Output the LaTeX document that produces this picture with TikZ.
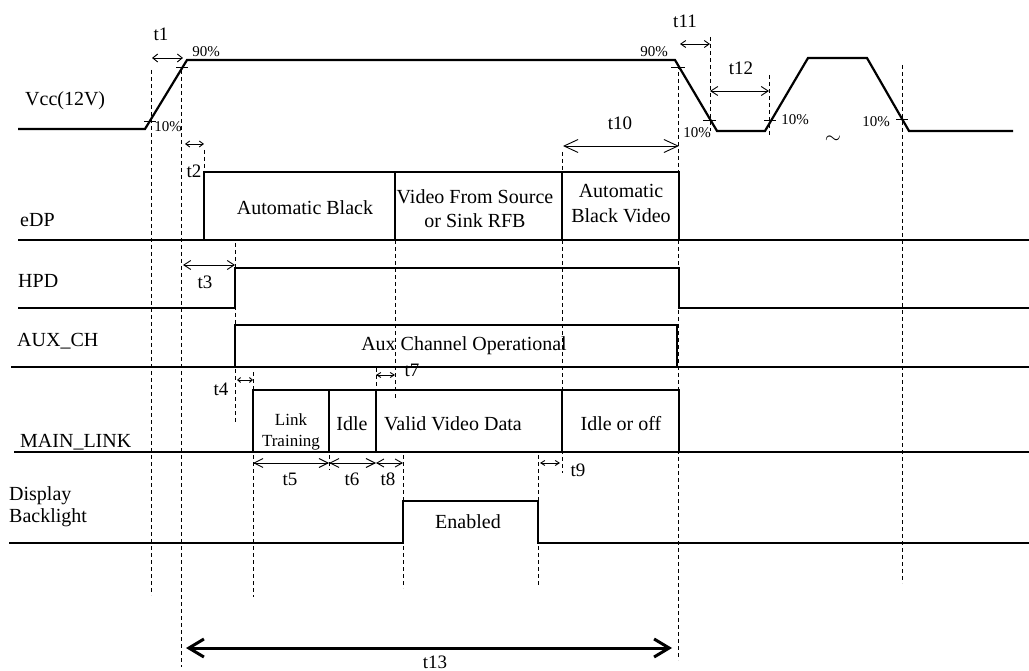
\documentclass[tikz,border=0pt]{standalone}
\usepackage{fontspec}
\setmainfont{Liberation Serif}
\usetikzlibrary{arrows.meta}
\begin{document}
\begin{tikzpicture}[x=1pt,y=-1pt,
  sig/.style={line width=2.2pt, line join=miter},
  guide/.style={line width=0.8pt, dash pattern=on 4pt off 3pt},
  tick/.style={line width=1pt},
  dim/.style n args={2}{{Straight Barb[length=#1,width=#2]}-{Straight Barb[length=#1,width=#2]}, line width=0.9pt},
  bigdim/.style={{Straight Barb[length=15pt,width=18pt]}-{Straight Barb[length=15pt,width=18pt]}, line width=3pt},
  lbl/.style={font=\fontsize{20}{23}\selectfont, inner sep=0pt},
  tl/.style={font=\fontsize{19}{22}\selectfont, inner sep=0pt},
  sm/.style={font=\fontsize{17}{20}\selectfont, inner sep=0pt},
  pct/.style={font=\fontsize{15}{17}\selectfont, inner sep=0pt}]
\useasboundingbox (0,0) rectangle (1029,671);

% ---------- signal names ----------
\node[lbl, anchor=base west] (nVcc) at (25,106) {Vcc(12V)};
\node[lbl, anchor=base west] (nEDP) at (20,227) {eDP};
\node[lbl, anchor=base west] (nHPD) at (18,288) {HPD};
\node[lbl, anchor=base west] (nAUX) at (17,347) {AUX\_CH};
\node[lbl, anchor=base west] (nML) at (20,447) {MAIN\_LINK};
\node[lbl, anchor=base west] (nDisp) at (9,500) {Display};
\node[lbl, anchor=base west] (nBL) at (9,522) {Backlight};

% ---------- guide lines ----------
\draw[guide] (151,70) -- (151,595);
\draw[guide] (181,70) -- (181,667);
\draw[guide] (204,150) -- (204,172);
\draw[guide] (235,243) -- (235,423);
\draw[guide] (253,372) -- (253,390);
\draw[guide] (253,455) -- (253,597);
\draw[guide] (329,455) -- (329,470);
\draw[guide] (376,368) -- (376,390);
\draw[guide] (395,240) -- (395,400);
\draw[guide] (403,455) -- (403,588);
\draw[guide] (538,455) -- (538,585);
\draw[guide] (562,152) -- (562,172);
\draw[guide] (562,240) -- (562,473);
\draw[guide] (678,65) -- (678,660);
\draw[guide] (710,37) -- (710,131);
\draw[guide] (769,75) -- (769,135);
\draw[guide] (902,65) -- (902,583);

% ---------- Vcc ----------
\draw[sig] (18,129) -- (145,129) -- (187,60) -- (675,60) -- (717,131) -- (765,131)
  -- (808,58) -- (867,58) -- (909,131) -- (1013,131);
\draw[tick] (144,122) -- (156,122);
\draw[tick] (176,68) -- (188,68);
\draw[tick] (671,68) -- (685,68);
\draw[tick] (703,121) -- (716,121);
\draw[tick] (764,121) -- (776,121);
\draw[tick] (896,120) -- (908,120);
\node[pct, anchor=base] (p90a) at (206,57) {90\%};
\node[pct, anchor=base] (p10a) at (168,132) {10\%};
\node[pct, anchor=base] (p90b) at (654,57) {90\%};
\node[pct, anchor=base] (p10b) at (697,138) {10\%};
\node[pct, anchor=base] (p10c) at (795,125) {10\%};
\node[pct, anchor=base] (p10d) at (876,127) {10\%};
\node[lbl] (tilde) at (833,140) {$\sim$};

% ---------- eDP ----------
\draw[sig] (18,240) -- (1029,240);
\draw[sig] (204,240) |- (679,172) -- (679,240);
\draw[sig] (395,172) -- (395,240);
\draw[sig] (562,172) -- (562,240);
\node[lbl, anchor=base] (eA) at (305,215) {Automatic Black};
\node[lbl, anchor=base] (eV1) at (475,204) {Video From Source};
\node[lbl, anchor=base] (eV2) at (475,228) {or Sink RFB};
\node[lbl, anchor=base] (eB1) at (621,198) {Automatic};
\node[lbl, anchor=base] (eB2) at (621,223) {Black Video};

% ---------- HPD ----------
\draw[sig] (18,308) -- (235,308) -- (235,268) -- (679,268) -- (679,308) -- (1029,308);

% ---------- AUX ----------
\draw[sig] (235,367) -- (235,325) -- (677,325) -- (677,367);
\draw[sig] (11,367) -- (1029,367);
\node[lbl, anchor=base] (aux) at (464,350) {Aux Channel Operational};

% ---------- MAIN_LINK ----------
\draw[sig] (14,452) -- (1029,452);
\draw[sig] (253,452) |- (679,390) -- (679,452);
\draw[sig] (329,390) -- (329,452);
\draw[sig] (376,390) -- (376,452);
\draw[sig] (562,390) -- (562,452);
\node[sm, anchor=base] (lt1) at (291,425) {Link};
\node[sm, anchor=base] (lt2) at (291,446) {Training};
\node[lbl, anchor=base] (idle) at (352,430) {Idle};
\node[lbl, anchor=base] (vvd) at (453,430) {Valid Video Data};
\node[lbl, anchor=base] (ioo) at (621,430) {Idle or off};

% ---------- Backlight ----------
\draw[sig] (9,543) -- (403,543) -- (403,501) -- (538,501) -- (538,543) -- (1029,543);
\node[lbl, anchor=base] (en) at (468,528) {Enabled};

% ---------- timing arrows ----------
\coordinate (a1) at (152,58);  \coordinate (b1) at (183,58);
\coordinate (a2) at (185,144); \coordinate (b2) at (204,144);
\coordinate (a3) at (183,265); \coordinate (b3) at (235,265);
\coordinate (a4) at (237,380); \coordinate (b4) at (253,380);
\coordinate (a5) at (253,463); \coordinate (b5) at (329,463);
\coordinate (b6) at (376,463); \coordinate (b8) at (403,463);
\coordinate (a7) at (376,375); \coordinate (b7) at (395,375);
\coordinate (a9) at (540,463); \coordinate (b9) at (560,463);
\coordinate (a10) at (563,146); \coordinate (b10) at (679,146);
\coordinate (a11) at (680,44); \coordinate (b11) at (710,44);
\coordinate (a12) at (710,91); \coordinate (b12) at (769,91);
\coordinate (a13) at (186,648); \coordinate (b13) at (672,648);

\draw[dim={5pt}{8pt}] (a1) -- (b1);
\draw[dim={4pt}{6pt}] (a2) -- (b2);
\draw[dim={7pt}{9pt}] (a3) -- (b3);
\draw[dim={3pt}{5pt}] (a4) -- (b4);
\draw[dim={9pt}{9pt}] (a5) -- (b5);
\draw[dim={9pt}{9pt}] (b5) -- (b6);
\draw[dim={7pt}{8pt}] (b6) -- (b8);
\draw[dim={4pt}{5pt}] (a7) -- (b7);
\draw[dim={4pt}{5pt}] (a9) -- (b9);
\draw[dim={14pt}{13pt}] (a10) -- (b10);
\draw[dim={5pt}{7pt}] (a11) -- (b11);
\draw[dim={7pt}{9pt}] (a12) -- (b12);
\draw[bigdim] (a13) -- (b13);

\node[tl, anchor=base] (t1) at (161,41) {t1};
\node[tl, anchor=base] (t2) at (194,178) {t2};
\node[tl, anchor=base] (t3) at (205,289) {t3};
\node[tl, anchor=base] (t4) at (221,395) {t4};
\node[tl, anchor=base] (t5) at (290,485) {t5};
\node[tl, anchor=base] (t6) at (352,485) {t6};
\node[tl, anchor=base] (t7) at (412,376) {t7};
\node[tl, anchor=base] (t8) at (388,485) {t8};
\node[tl, anchor=base] (t9) at (578,476) {t9};
\node[tl, anchor=base] (t10) at (620,130) {t10};
\node[tl, anchor=base] (t11) at (685,28) {t11};
\node[tl, anchor=base] (t12) at (741,75) {t12};
\node[tl, anchor=base] (t13) at (435,668) {t13};
\end{tikzpicture}
\end{document}
